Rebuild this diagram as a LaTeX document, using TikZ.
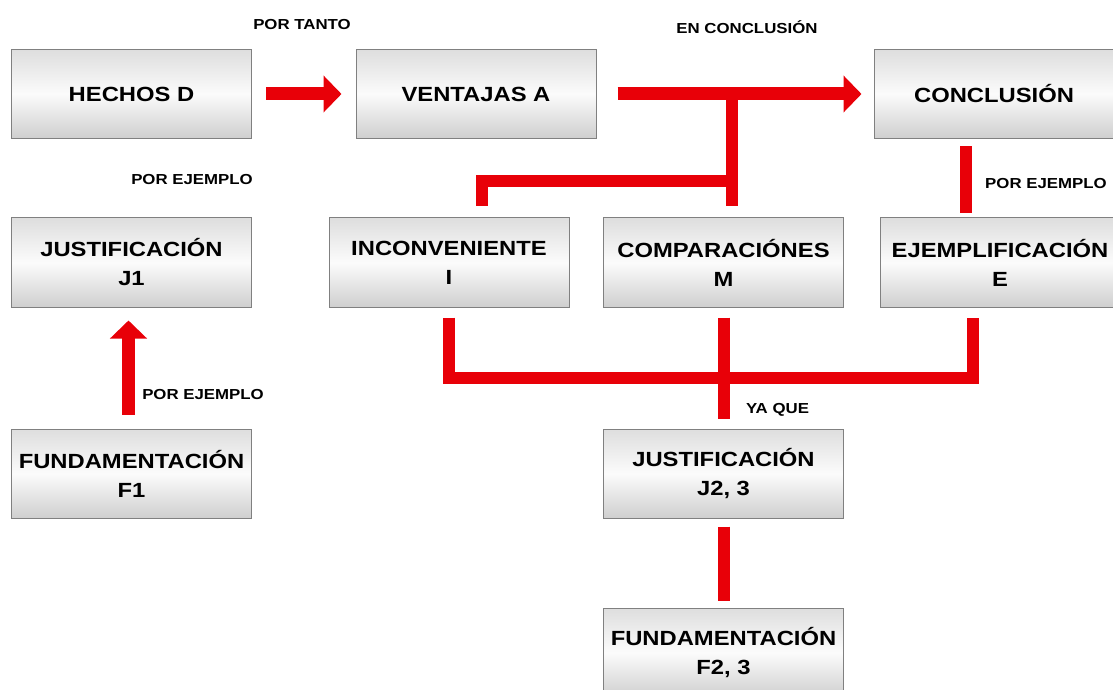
\documentclass[tikz,border=0pt]{standalone}
\usepackage{fontspec}
\setmainfont{Liberation Sans}[FakeStretch=1.16]
\usetikzlibrary{arrows.meta,calc}
\definecolor{barred}{RGB}{232,0,8}
\definecolor{boxedge}{RGB}{128,128,128}
\tikzset{
  box/.style={draw=boxedge, line width=1bp, top color=gray!26, bottom color=gray!38, middle color=white!97!gray,
    minimum width=240bp, minimum height=89bp, inner sep=0pt, align=center,
    font=\fontsize{20.5bp}{29bp}\selectfont\bfseries},
  lab/.style={inner sep=0pt, font=\fontsize{14.5bp}{17bp}\selectfont\bfseries},
  arr/.style={draw=barred, line width=13bp, -{Triangle[length=18bp,width=36bp]}},
  bar/.style={draw=barred, line width=12bp, line cap=butt, line join=miter}
}
\begin{document}
\begin{tikzpicture}[x=1bp,y=-1bp]
\useasboundingbox (0,0) rectangle (1113,690);
\clip (0,0) rectangle (1113,690);
% boxes
\node[box] (hechos) at (131.5,94) {HECHOS D};
\node[box] (ventajas) at (476,94) {VENTAJAS A};
\node[box] (conclusion) at (994,94) {CONCLUSIÓN};
\node[box] (j1) at (131.5,262.5) {JUSTIFICACIÓN\\J1};
\node[box] (inc) at (449,262.5) {INCONVENIENTE\\I};
\node[box] (comp) at (723.5,262.5) {COMPARACIÓNES\\M};
\node[box] (ejem) at (1000,262.5) {EJEMPLIFICACIÓN\\E};
\node[box] (f1) at (131.5,473.5) {FUNDAMENTACIÓN\\F1};
\node[box] (j2) at (723.5,473.5) {JUSTIFICACIÓN\\J2, 3};
\node[box] (f2) at (723.5,652.5) {FUNDAMENTACIÓN\\F2, 3};
% labels
\node[lab] (l1) at (302,25) {POR TANTO};
\node[lab] (l2) at (747,27.5) {EN CONCLUSIÓN};
\node[lab] (l3) at (192,180) {POR EJEMPLO};
\node[lab, anchor=west] (l4) at (985,184) {POR EJEMPLO};
\node[lab] (l5) at (203,395) {POR EJEMPLO};
\node[lab] (l6) at (777.5,409.5) {YA QUE};
% helper coordinates
\coordinate (tx) at (731.5,0);
\coordinate (lx) at (482,0);
\coordinate (ty) at (0,181);
\coordinate (cx) at (966,0);
\coordinate (mx) at (724,0);
\coordinate (ex) at (973,0);
\coordinate (hy) at (0,377.5);
% arrows
\draw[arr, shorten <=14bp, shorten >=14bp] (hechos) -- (ventajas);
\draw[arr, shorten <=21bp, shorten >=12bp] (ventajas) -- (conclusion);
\draw[arr, shorten <=14bp, shorten >=13bp] ([xshift=-3bp]f1.north) -- ([xshift=-3bp]j1.south);
% top bracket
\draw[bar, shorten >=11bp] (ventajas -| tx) -- (comp.north -| tx);
\draw[bar, shorten >=11bp] (tx |- ty) -- (lx |- ty) -- (inc.north -| lx);
% conclusion - ejemplificacion
\draw[bar, shorten <=7bp, shorten >=4bp] (conclusion.south -| cx) -- (ejem.north -| cx);
% bottom bracket
\draw[bar, shorten <=10bp, shorten >=10bp] (inc.south) -- (inc.south |- hy) -- (ex |- hy) -- (ejem.south -| ex);
\draw[bar, shorten <=10bp, shorten >=10bp] (comp.south -| mx) -- (j2.north -| mx);
% justificacion - fundamentacion
\draw[bar, shorten <=8bp, shorten >=7bp] (j2.south -| mx) -- (f2.north -| mx);
\end{tikzpicture}
\end{document}
